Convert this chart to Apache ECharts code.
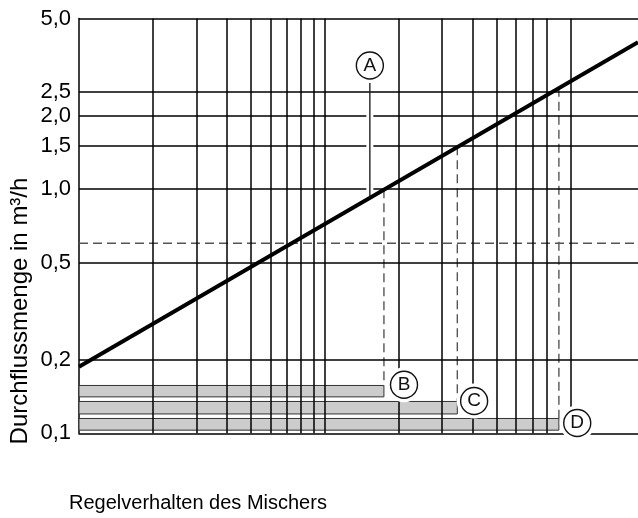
<!DOCTYPE html>
<html>
<head>
<meta charset="utf-8">
<script src="https://cdn.jsdelivr.net/npm/echarts@6/dist/echarts.min.js"></script>
<style>
  html, body { margin: 0; padding: 0; background: #fff; }
  #chart { width: 638px; height: 518px; }
</style>
</head>
<body>
<div id="chart"></div>
<script>
// Grid positions on the log-log chart
const xGridLines = [2, 3, 4, 5, 6, 7, 8, 9, 10, 20, 30, 40, 50, 60, 70, 80, 100];
const yGridLines = [0.2, 0.5, 1.0, 1.5, 2.0, 2.5, 5.0];
const yTickLabels = [0.1, 0.2, 0.5, 1.0, 1.5, 2.0, 2.5, 5.0];

// Characteristic line (flow vs. pressure loss)
const curveX = [1, 188];
const curveY = [0.1875, 4.0];

// Reference flow (dashed horizontal)
const refFlow = 0.6;

// Mixer control ranges B, C, D
const mixerNames = ['B', 'C', 'D'];
const mixerEnd = [17.4, 34.6, 89.6];
const barLow = [0.141, 0.120, 0.103];
const barHigh = [0.157, 0.135, 0.115];
const dropTop = [1.0, 1.5, 2.6];

// Circled markers
const markerNames = ['A', 'B', 'C', 'D'];
const markerX = [15.25, 21.0, 40.5, 106.4];
const markerY = [3.21, 0.158, 0.1356, 0.1102];
const leaderX = 15.25;
const leaderY = [3.2, 0.92];
const leaderHaloY = [2.3, 0.95];

const FONT = '"Liberation Sans", Arial, sans-serif';
const chart = echarts.init(document.getElementById('chart'));

const series = [];

// grid lines
series.push({
  type: 'line', data: [[1, 0.1]], symbol: 'none', lineStyle: { width: 0 }, z: 1,
  markLine: {
    silent: true, symbol: ['none', 'none'], label: { show: false },
    lineStyle: { color: '#000', width: 1.5, type: 'solid' },
    animation: false,
    data: xGridLines.map(v => ({ xAxis: v })).concat(yGridLines.map(v => ({ yAxis: v })))
  }
});

// reference flow dashed line
series.push({
  type: 'line', symbol: 'none', z: 3,
  data: [[1, refFlow], [188, refFlow]],
  lineStyle: { color: '#555', width: 1.4, type: [9, 5] }
});

// mixer range bars
series.push({
  type: 'custom', z: 4,
  data: mixerEnd.map((e, i) => [e, barLow[i], barHigh[i]]),
  encode: { x: 0, y: [1, 2] },
  renderItem: function (params, api) {
    const p0 = api.coord([1, api.value(2)]);
    const p1 = api.coord([api.value(0), api.value(1)]);
    return {
      type: 'rect',
      shape: { x: p0[0], y: p0[1], width: p1[0] - p0[0], height: p1[1] - p0[1] },
      style: { fill: '#cccccc', stroke: '#333', lineWidth: 1 }
    };
  }
});

// drop lines from characteristic to each bar
mixerEnd.forEach((e, i) => {
  series.push({
    type: 'line', symbol: 'none', z: 3,
    data: [[e, dropTop[i]], [e, barHigh[i]]],
    lineStyle: { color: '#555', width: 1.4, type: [9, 5] }
  });
});

// leader for A: white halo then thin line
series.push({
  type: 'line', symbol: 'none', z: 5,
  data: [[leaderX, leaderHaloY[0]], [leaderX, leaderHaloY[1]]],
  lineStyle: { color: '#fff', width: 7 }
});
series.push({
  type: 'line', symbol: 'none', z: 6,
  data: [[leaderX, leaderY[0]], [leaderX, leaderY[1]]],
  lineStyle: { color: '#222', width: 1.4 }
});

// characteristic line
series.push({
  type: 'line', symbol: 'none', z: 7,
  data: curveX.map((x, i) => [x, curveY[i]]),
  lineStyle: { color: '#000', width: 4 }
});

// marker halos and circles
series.push({
  type: 'scatter', z: 8, symbol: 'circle', symbolSize: 35, silent: true,
  data: markerNames.map((n, i) => [markerX[i], markerY[i]]),
  itemStyle: { color: '#fff', opacity: 1 }
});
series.push({
  type: 'scatter', z: 9, symbol: 'circle', symbolSize: 27, silent: true,
  data: markerNames.map((n, i) => ({ name: n, value: [markerX[i], markerY[i]] })),
  itemStyle: { color: '#fff', borderColor: '#111', borderWidth: 1.4, opacity: 1 },
  label: {
    show: true, position: 'inside', formatter: p => p.name,
    color: '#111', fontSize: 19, fontFamily: FONT
  }
});

chart.setOption({
  animation: false,
  backgroundColor: '#fff',
  grid: { left: 79, right: 0, top: 18.5, bottom: 84.7, containLabel: false },
  xAxis: {
    type: 'log', logBase: 10, min: 1, max: 188,
    axisLine: { show: true, lineStyle: { color: '#000', width: 1.5 } },
    axisTick: { show: false }, axisLabel: { show: false }, splitLine: { show: false }
  },
  yAxis: {
    type: 'log', logBase: 10, min: 0.1, max: 5,
    axisLine: { show: true, lineStyle: { color: '#000', width: 1.5 } },
    axisTick: { show: false }, splitLine: { show: false },
    axisLabel: {
      show: true, customValues: yTickLabels, margin: 8,
      color: '#000', fontSize: 22, fontFamily: FONT,
      formatter: v => Number(v).toFixed(1).replace('.', ',')
    }
  },
  graphic: [
    {
      type: 'text', x: 20, y: 311, rotation: Math.PI / 2,
      style: {
        text: 'Durchflussmenge in m³/h', font: '24px ' + FONT, fill: '#000',
        align: 'center', verticalAlign: 'middle'
      }
    },
    {
      type: 'text', x: 69, y: 503,
      style: {
        text: 'Regelverhalten des Mischers', font: '20px ' + FONT, fill: '#000',
        align: 'left', verticalAlign: 'middle'
      }
    }
  ],
  series: series
});
</script>
</body>
</html>
